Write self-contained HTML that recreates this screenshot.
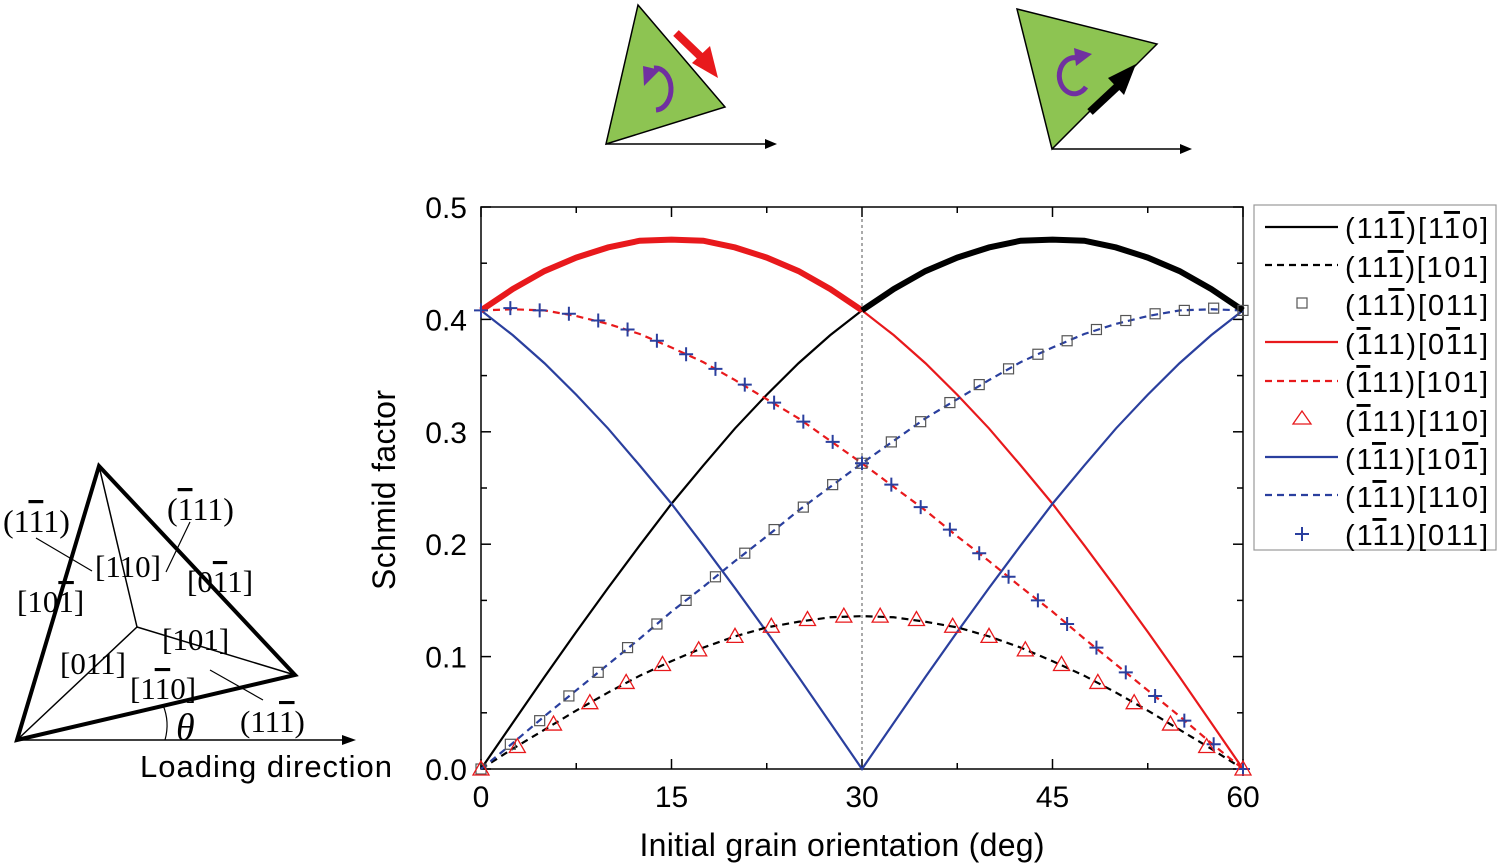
<!DOCTYPE html>
<html><head><meta charset="utf-8"><style>
html,body{margin:0;padding:0;background:#fff}
svg{display:block;font-family:"Liberation Sans",sans-serif}
.serif{font-family:"Liberation Serif",serif}
</style></head><body>
<svg id="chart" width="1500" height="867" viewBox="0 0 1500 867">
<!-- Left schematic -->
<g class="serif">
<polygon points="17,740 99,466 295,675" fill="none" stroke="#000" stroke-width="4"/>
<line x1="137" y1="627" x2="17" y2="740" stroke="#000" stroke-width="1.5"/>
<line x1="137" y1="627" x2="99" y2="466" stroke="#000" stroke-width="1.5"/>
<line x1="137" y1="627" x2="295" y2="675" stroke="#000" stroke-width="1.5"/>
<line x1="17" y1="740" x2="350" y2="740" stroke="#000" stroke-width="1.5"/>
<polygon points="356,740 342,735 342,745" fill="#000"/>
<path d="M163,705 Q170,722 165,740" fill="none" stroke="#000" stroke-width="1.2"/>
<line x1="36" y1="538" x2="92" y2="571" stroke="#000" stroke-width="1.2"/>
<line x1="190" y1="522" x2="166" y2="572" stroke="#000" stroke-width="1.2"/>
<line x1="210" y1="670" x2="263" y2="700" stroke="#000" stroke-width="1.2"/>
<text x="3" y="532" font-size="32">(1<tspan text-decoration="overline">1</tspan>1)</text>
<text x="167" y="520" font-size="32">(<tspan text-decoration="overline">1</tspan>11)</text>
<text x="95" y="577" font-size="31">[110]</text>
<text x="187" y="592" font-size="31">[0<tspan text-decoration="overline">1</tspan>1]</text>
<text x="17" y="612" font-size="31">[10<tspan text-decoration="overline">1</tspan>]</text>
<text x="162" y="650" font-size="31">[101]</text>
<text x="60" y="674" font-size="31">[011]</text>
<text x="130" y="699" font-size="31">[1<tspan text-decoration="overline">1</tspan>0]</text>
<text x="240" y="732" font-size="31">(11<tspan text-decoration="overline">1</tspan>)</text>
<text x="176" y="740" font-size="38" font-style="italic">θ</text>
</g>
<text x="140" y="777" font-size="31" textLength="252">Loading direction</text>

<!-- Top icons -->
<g>
<polygon points="638,5 725,107 606,144" fill="#8dc452" stroke="#000" stroke-width="1.5"/>
<line x1="606" y1="144" x2="768" y2="144" stroke="#000" stroke-width="1.5"/>
<polygon points="777,144 765,139 765,149" fill="#000"/>
<line x1="676" y1="33" x2="701" y2="57" stroke="#e8191c" stroke-width="8"/>
<polygon points="692,63 710,46 718,78" fill="#e8191c"/>
<path d="M656,110 A16,21 0 0,0 654,68" fill="none" stroke="#7030a0" stroke-width="5"/>
<polygon points="644,86 643,66 660,70" fill="#7030a0"/>
</g>
<g>
<polygon points="1017,9 1157,44 1052,149" fill="#8dc452" stroke="#000" stroke-width="1.5"/>
<line x1="1052" y1="149" x2="1183" y2="149" stroke="#000" stroke-width="1.5"/>
<polygon points="1192,149 1180,144 1180,154" fill="#000"/>
<line x1="1090" y1="112" x2="1120" y2="84" stroke="#000" stroke-width="8"/>
<polygon points="1108,78 1136,64 1124,95" fill="#000"/>
<path d="M1086,87 A15,18 0 1,1 1077,58" fill="none" stroke="#7030a0" stroke-width="5"/>
<polygon points="1074,48 1092,54 1076,66" fill="#7030a0"/>
</g>

<g id="plot"></g>

<!-- Legend -->
<g font-size="29">
<rect x="1254" y="205" width="242" height="345" fill="#fff" stroke="#999" stroke-width="1.2"/>
<g><line x1="1265" y1="227" x2="1338" y2="227" stroke="#000" stroke-width="2.2"/><text x="1345" y="238" textLength="143">(11<tspan text-decoration="overline">1</tspan>)[1<tspan text-decoration="overline">1</tspan>0]</text></g>
<g><line x1="1265" y1="265" x2="1338" y2="265" stroke="#000" stroke-width="2.2" stroke-dasharray="7,5"/><text x="1345" y="277" textLength="143">(11<tspan text-decoration="overline">1</tspan>)[101]</text></g>
<g><rect x="1297" y="298" width="10" height="10" fill="none" stroke="#555" stroke-width="1.2"/><text x="1345" y="315" textLength="143">(11<tspan text-decoration="overline">1</tspan>)[011]</text></g>
<g><line x1="1265" y1="342" x2="1338" y2="342" stroke="#e8191c" stroke-width="2.2"/><text x="1345" y="354" textLength="143">(<tspan text-decoration="overline">1</tspan>11)[0<tspan text-decoration="overline">1</tspan>1]</text></g>
<g><line x1="1265" y1="381" x2="1338" y2="381" stroke="#e8191c" stroke-width="2.2" stroke-dasharray="7,5"/><text x="1345" y="392" textLength="143">(<tspan text-decoration="overline">1</tspan>11)[101]</text></g>
<g><polygon points="1302,411 1293,424 1311,424" fill="none" stroke="#e8191c" stroke-width="1.3"/><text x="1345" y="431" textLength="143">(<tspan text-decoration="overline">1</tspan>11)[110]</text></g>
<g><line x1="1265" y1="457" x2="1338" y2="457" stroke="#2a3f9e" stroke-width="2.2"/><text x="1345" y="469" textLength="143">(1<tspan text-decoration="overline">1</tspan>1)[10<tspan text-decoration="overline">1</tspan>]</text></g>
<g><line x1="1265" y1="495" x2="1338" y2="495" stroke="#2a3f9e" stroke-width="2.2" stroke-dasharray="7,5"/><text x="1345" y="507" textLength="143">(1<tspan text-decoration="overline">1</tspan>1)[110]</text></g>
<g><path d="M1295,534 h14 M1302,527 v14" stroke="#2a3f9e" stroke-width="2"/><text x="1345" y="545" textLength="143">(1<tspan text-decoration="overline">1</tspan>1)[011]</text></g>
</g>
</svg>
<script>
const angles = [0,2.5,5,7.5,10,12.5,15,17.5,20,22.5,25,27.5,30,32.5,35,37.5,40,42.5,45,47.5,50,52.5,55,57.5,60];
const blackSolid = [0,.041,.082,.122,.161,.199,.236,.270,.303,.333,.361,.386,.408,.427,.443,.455,.464,.470,.471,.470,.464,.455,.443,.427,.408];
const redSolid = [.408,.427,.443,.455,.464,.470,.471,.470,.464,.455,.443,.427,.408,.386,.361,.333,.303,.270,.236,.199,.161,.122,.082,.041,0];
const blueSolid = [.408,.386,.361,.333,.303,.270,.236,.199,.161,.122,.082,.041,0,.041,.082,.122,.161,.199,.236,.270,.303,.333,.361,.386,.408];
const blackDashed = [0,.018,.035,.052,.068,.083,.096,.108,.118,.126,.131,.135,.136,.135,.131,.126,.118,.108,.096,.083,.068,.052,.035,.018,0];
const blueDashed = [0,.023,.047,.070,.093,.116,.140,.162,.185,.207,.230,.251,.272,.292,.312,.329,.346,.362,.375,.387,.396,.403,.408,.409,.408];
const redDashed = [.408,.409,.408,.403,.396,.387,.375,.362,.346,.329,.312,.292,.272,.251,.230,.207,.185,.162,.140,.116,.093,.070,.047,.023,0];
const squareAngles = [0,2.31,4.62,6.92,9.23,11.54,13.85,16.15,18.46,20.77,23.08,25.38,27.69,30,32.31,34.62,36.92,39.23,41.54,43.85,46.15,48.46,50.77,53.08,55.38,57.69,60];
const squareValues = [0,.022,.043,.065,.086,.108,.129,.150,.171,.192,.213,.233,.253,.272,.291,.309,.326,.342,.356,.369,.381,.391,.399,.405,.408,.410,.408];
const crossValues = [.408,.410,.408,.405,.399,.391,.381,.369,.356,.342,.326,.309,.291,.272,.253,.233,.213,.192,.171,.150,.129,.108,.086,.065,.043,.022,0];
const triangleAngles = [0,2.86,5.71,8.57,11.43,14.29,17.14,20,22.86,25.71,28.57,31.43,34.29,37.14,40,42.86,45.71,48.57,51.43,54.29,57.14,60];
const triangleValues = [0,.020,.040,.059,.077,.093,.106,.118,.127,.133,.136,.136,.133,.127,.118,.106,.093,.077,.059,.040,.020,0];
const xTicks = [0,15,30,45,60];
const yTicks = [0.0,0.1,0.2,0.3,0.4,0.5];

const NS='http://www.w3.org/2000/svg';
const X0=481,X1=1243,Y0=769,Y1=207;
const xs=v=>X0+(v/60)*(X1-X0);
const ys=v=>Y0-(v/0.5)*(Y0-Y1);
const plot=document.getElementById('plot');
function mk(tag,attrs,parent){const e=document.createElementNS(NS,tag);for(const k in attrs)e.setAttribute(k,attrs[k]);(parent||plot).appendChild(e);return e;}
function pathOf(xv,yv,from,to){let d='';for(let i=0;i<xv.length;i++){if(xv[i]<from-1e-9||xv[i]>to+1e-9)continue;d+=(d?'L':'M')+xs(xv[i]).toFixed(2)+','+ys(yv[i]).toFixed(2);}return d;}

const frame=mk('rect',{x:X0,y:Y1,width:X1-X0,height:Y0-Y1,fill:'none',stroke:'#000','stroke-width':1.5});


const ref=mk('line',{x1:xs(30),x2:xs(30),y1:Y1,y2:Y0,stroke:'#555','stroke-width':1,'stroke-dasharray':'3,3'});


for(let i=0;i<=8;i++){const v=i*7.5;const len=(i%2===0)?10:6;
 mk('line',{x1:xs(v),x2:xs(v),y1:Y0,y2:Y0-len,stroke:'#000','stroke-width':1.5});
 mk('line',{x1:xs(v),x2:xs(v),y1:Y1,y2:Y1+len,stroke:'#000','stroke-width':1.5});}
for(let i=0;i<=10;i++){const v=i*0.05;const len=(i%2===0)?10:6;
 mk('line',{x1:X0,x2:X0+len,y1:ys(v),y2:ys(v),stroke:'#000','stroke-width':1.5});
 mk('line',{x1:X1,x2:X1-len,y1:ys(v),y2:ys(v),stroke:'#000','stroke-width':1.5});}
xTicks.forEach(v=>{const t=mk('text',{x:xs(v),y:807,'font-size':30,'text-anchor':'middle'});t.textContent=v;
 
 });
yTicks.forEach(v=>{const t=mk('text',{x:467,y:ys(v)+11,'font-size':30,'text-anchor':'end'});t.textContent=v.toFixed(1);
 
 });
const xt=mk('text',{x:842,y:856,'font-size':32,'text-anchor':'middle',textLength:405});xt.textContent='Initial grain orientation (deg)';


const yt=mk('text',{x:0,y:0,'font-size':32,'text-anchor':'middle',textLength:200,transform:'translate(395,490) rotate(-90)'});yt.textContent='Schmid factor';



function line(vals,color,dash,name,w){const p=mk('path',{d:pathOf(angles,vals,0,60),fill:'none',stroke:color,'stroke-width':w||2.2});if(dash)p.setAttribute('stroke-dasharray',dash);
 
 }
line(blackSolid,'#000',null,'series-11-1-1-10');
line(redSolid,'#e8191c',null,'series-m111-0m11');
line(blueSolid,'#2a3f9e',null,'series-1m11-10m1');
line(blackDashed,'#000','7,5','series-11-1-101');
line(redDashed,'#e8191c','7,5','series-m111-101');
line(blueDashed,'#2a3f9e','7,5','series-1m11-110');
const rb=mk('path',{d:pathOf(angles,redSolid,0,30),fill:'none',stroke:'#e8191c','stroke-width':6});


const bb=mk('path',{d:pathOf(angles,blackSolid,30,60),fill:'none',stroke:'#000','stroke-width':6});


squareAngles.forEach((a,i)=>{const r=mk('rect',{x:xs(a)-5,y:ys(squareValues[i])-5,width:10,height:10,fill:'none',stroke:'#555','stroke-width':1.2});
 
 });
squareAngles.forEach((a,i)=>{const cx=xs(a),cy=ys(crossValues[i]);const p=mk('path',{d:`M${cx-7},${cy}h14M${cx},${cy-7}v14`,stroke:'#2a3f9e','stroke-width':2});
 
 });
triangleAngles.forEach((a,i)=>{const cx=xs(a),cy=ys(triangleValues[i]);const p=mk('polygon',{points:`${cx},${cy-8} ${cx-8},${cy+6} ${cx+8},${cy+6}`,fill:'none',stroke:'#e8191c','stroke-width':1.3});
 
 });
</script>
</body></html>
